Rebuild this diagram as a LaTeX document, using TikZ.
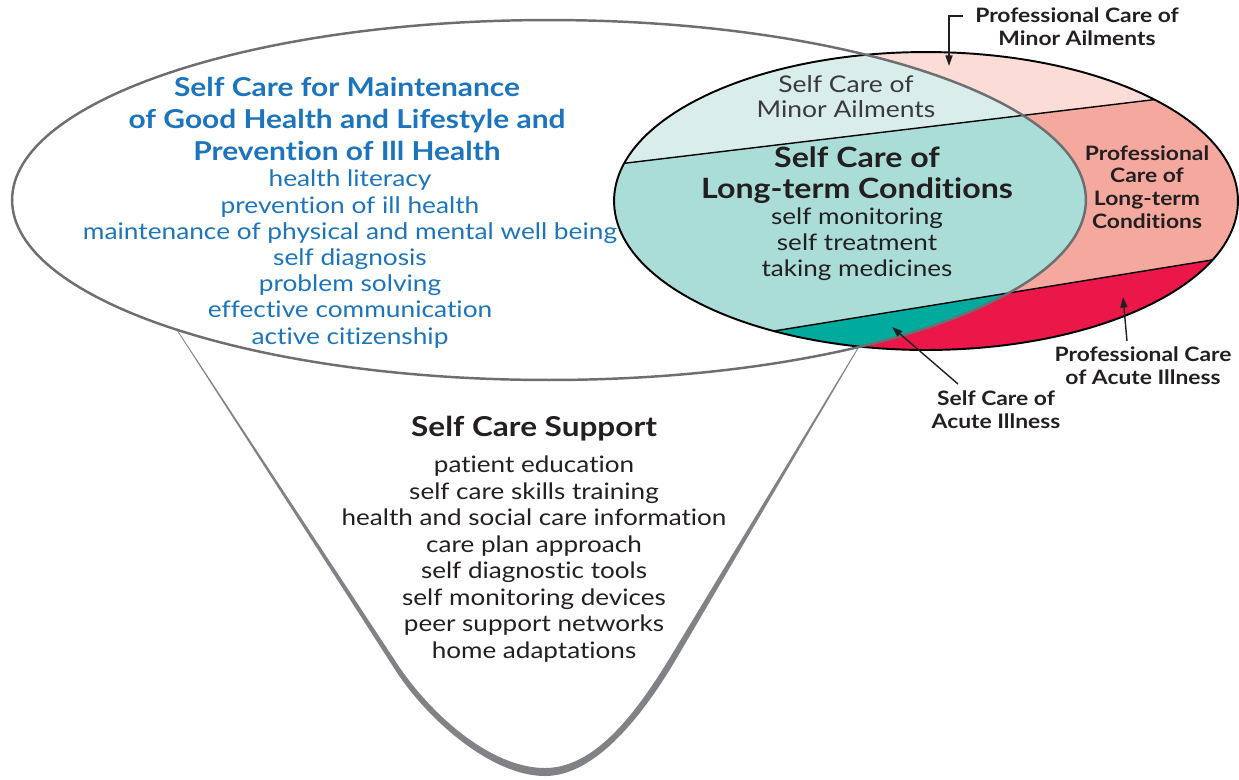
\documentclass[tikz,border=0pt]{standalone}
\usepackage{fontspec}
\setmainfont{Lato}[FakeStretch=1.15,Ligatures=NoCommon]
\usetikzlibrary{arrows.meta}
\definecolor{ink}{HTML}{231F20}
\definecolor{softink}{HTML}{3A3A3C}
\definecolor{selfblue}{HTML}{1C75BC}
\definecolor{rimgrey}{HTML}{6D6E71}
\definecolor{funnelgrey}{HTML}{808285}
\definecolor{lpink}{HTML}{FBDCD6}
\definecolor{salmon}{HTML}{F5A99E}
\definecolor{crimson}{HTML}{EB1749}
\definecolor{lteal}{HTML}{D9EEEB}
\definecolor{mteal}{HTML}{AADDD8}
\definecolor{dteal}{HTML}{00AA9C}
\newcommand{\Ptr}[2]{\draw [ptr] (#1) -- (#2);}

\begin{document}
\begin{tikzpicture}
[x=0.02cm, y=-0.02cm,
 ptr/.style={-{Triangle[length=6pt,width=4pt]},line width=0.8pt,draw=ink},
 band/.style={draw=black,line width=0.8pt},
 txt/.style={align=center,inner sep=0pt,text=ink},
 headtxt/.style={txt,text=selfblue,font=\fontsize{14.8}{18}\selectfont\bfseries},
 goodtxt/.style={txt,text=selfblue,font=\fontsize{13}{14.9}\selectfont},
 supphead/.style={txt,font=\fontsize{15.6}{18}\selectfont\bfseries},
 supptxt/.style={txt,font=\fontsize{12.9}{15.1}\selectfont},
 minortxt/.style={txt,text=softink,font=\fontsize{13.1}{14.2}\selectfont},
 ltchead/.style={txt,font=\fontsize{15.9}{17.6}\selectfont\bfseries},
 ltctxt/.style={txt,font=\fontsize{12.9}{14.7}\selectfont},
 smallbold/.style={txt,font=\fontsize{11.3}{13}\selectfont\bfseries},]

\useasboundingbox (0,0) rectangle (1239,779);

% support funnel, tapering towards the top
\fill[funnelgrey] (176.7,330.2) -- (392.9,666.3)
  .. controls (424.2,716.8) and (490,776) .. (545,776)
  .. controls (595,776) and (643.1,716.7) .. (680.6,651.5)
  -- (858.35,348.2) -- (857.65,347.8) -- (675.4,648.5)
  .. controls (636.9,713.3) and (595,768) .. (545,768)
  .. controls (490,768) and (429.8,713.2) .. (397.1,663.7)
  -- (177.3,329.8) -- cycle;

% band edges inside the small ellipse
\coordinate (a1) at (600,166.2);
\coordinate (a2) at (1250,88.1);
\coordinate (b1) at (600,359.2);
\coordinate (b2) at (1250,253.8);
\coordinate (small) at (926,201);
\coordinate (big) at (549,200);

\begin{scope}
\clip (small) ellipse [x radius=6.24cm, y radius=2.98cm];
\fill[lpink] (600,40) -- (1250,40) -- (a2) -- (a1) -- cycle;
\fill[salmon] (a1) -- (a2) -- (b2) -- (b1) -- cycle;
\fill[crimson] (b1) -- (b2) -- (1250,370) -- (600,370) -- cycle;
\begin{scope}
\clip (big) ellipse [x radius=10.74cm, y radius=3.6cm];
\fill[lteal] (600,40) -- (1250,40) -- (a2) -- (a1) -- cycle;
\fill[mteal] (a1) -- (a2) -- (b2) -- (b1) -- cycle;
\fill[dteal] (b1) -- (b2) -- (1250,370) -- (600,370) -- cycle;
\end{scope}
\draw[band] (a1) -- (a2);
\draw[band] (b1) -- (b2);
\end{scope}

\draw[black,line width=1.1pt] (small) ellipse [x radius=6.24cm, y radius=2.98cm];
\draw[rimgrey,line width=1.4pt] (big) ellipse [x radius=10.74cm, y radius=3.6cm];

% texts
\node[headtxt] (maint) at (347,119) {Self Care for Maintenance\\of Good Health and Lifestyle and\\Prevention of Ill Health};
\node[goodtxt] (maintlist) at (350,259) {health literacy\\prevention of ill health\\maintenance of physical and mental well being\\self diagnosis\\problem solving\\effective communication\\active citizenship};
\node[supphead] (supp) at (534,429) {Self Care Support};
\node[supptxt] (supplist) at (534,559) {patient education\\self care skills training\\health and social care information\\care plan approach\\self diagnostic tools\\self monitoring devices\\peer support networks\\home adaptations};
\node[minortxt] (scma) at (846,97) {Self Care of\\Minor Ailments};
\node[ltchead] (scltc) at (857,175) {Self Care of\\Long-term Conditions};
\node[ltctxt] (scltclist) at (857,244) {self monitoring\\self treatment\\taking medicines};
\node[smallbold] (pcltc) at (1147,187) {Professional\\Care of\\Long-term\\Conditions};
\node[smallbold] (pcma) at (1077,27) {Professional Care of\\Minor Ailments};
\node[smallbold] (pcai) at (1143,366) {Professional Care\\of Acute Illness};
\node[smallbold] (scai) at (996,410) {Self Care of\\Acute Illness};

% pointers
\coordinate (pcmaS) at (963,16);
\coordinate (pcmaT) at (949,66);
\coordinate (scaiS) at (958,384);
\coordinate (scaiT) at (892,327);
\coordinate (pcaiS) at (1127,341);
\coordinate (pcaiT) at (1123,297);
\draw [ptr] (pcmaS) -| (pcmaT);
\Ptr{scaiS}{scaiT}
\Ptr{pcaiS}{pcaiT}
\end{tikzpicture}
\end{document}
